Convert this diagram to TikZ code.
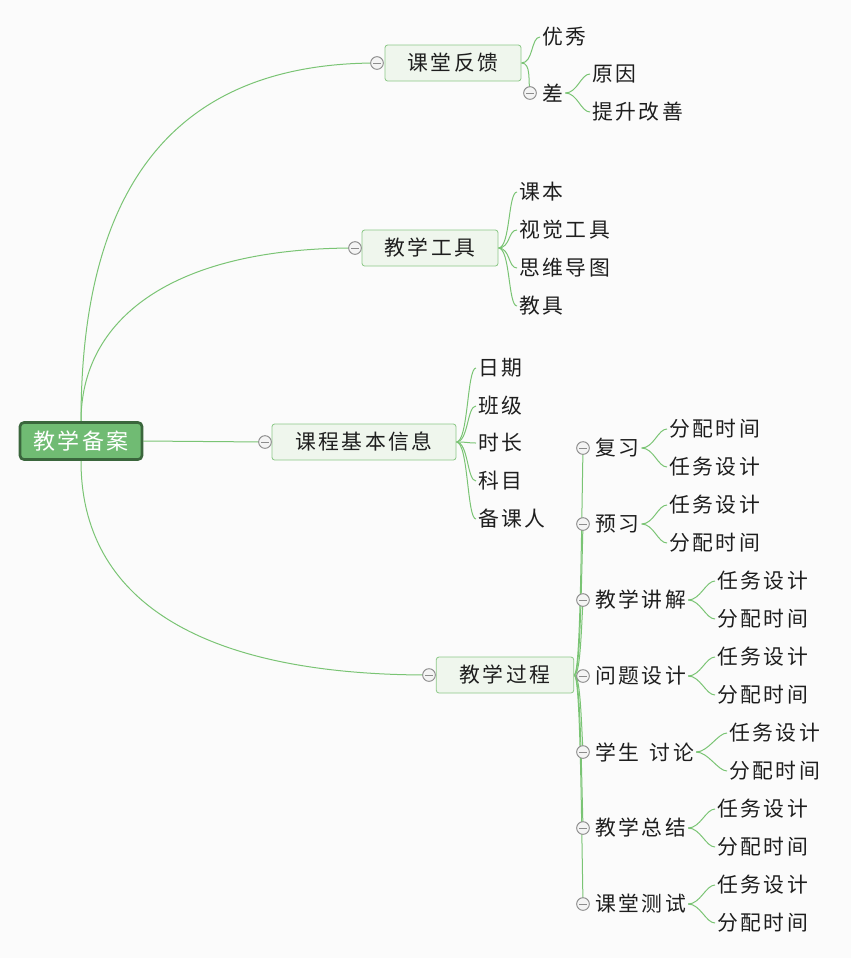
\documentclass[tikz,border=0pt]{standalone}
\usepackage{fontspec}
\setmainfont{Noto Sans CJK SC}[LetterSpace=12]
\pgfdeclarelayer{bg}
\pgfdeclarelayer{lines}
\pgfsetlayers{bg,lines,main}
\definecolor{bgc}{RGB}{251,251,251}
\definecolor{lnc}{RGB}{122,196,116}
\definecolor{rootf}{RGB}{112,187,115}
\definecolor{rootb}{RGB}{58,102,60}
\definecolor{boxf}{RGB}{239,246,237}
\definecolor{boxb}{RGB}{140,200,135}
\definecolor{clpc}{RGB}{140,140,140}
\definecolor{clpf}{RGB}{244,244,244}
\definecolor{txt}{RGB}{30,30,30}
\begin{document}
\begin{tikzpicture}[x=0.75pt,y=-0.75pt,
  every node/.style={font=\fontsize{15.6}{18}\selectfont, text=txt},
  rootbox/.style={draw=rootb, fill=rootf, line width=2pt, rounded corners=3pt,
    minimum width=91.5pt, minimum height=27.75pt, inner sep=0pt, text=white,
    font=\fontsize{16.5}{18}\selectfont},
  topic/.style={draw=boxb, fill=boxf, line width=0.6pt, rounded corners=2pt,
    minimum height=27pt, inner sep=0pt},
  leaf/.style={anchor=west, inner xsep=1.5pt, inner ysep=2pt},
  clp/.style={circle, draw=clpc, fill=clpf, line width=0.7pt, minimum size=9.5pt, inner sep=0pt,
    path picture={\draw[clpc, line width=0.7pt]
      ([xshift=-2.8pt]path picture bounding box.center) --
      ([xshift=2.8pt]path picture bounding box.center);}},
  con/.style={draw=lnc, line width=0.75pt},
]
\useasboundingbox (0,0) rectangle (851,958);
\begin{pgfonlayer}{bg}
\fill[bgc] (0,0) rectangle (851,958);
\end{pgfonlayer}

% root and main topics
\node[rootbox] (root) at (81,441) {教学备案};
\node[topic, minimum width=102pt] (kt) at (453,63) {课堂反馈};
\node[clp] (ckt) at (377,63) {};
\node[topic, minimum width=102pt] (gj) at (430,248) {教学工具};
\node[clp] (cgj) at (355,248) {};
\node[topic, minimum width=138pt] (jb) at (364,442) {课程基本信息};
\node[clp] (cjb) at (265,442) {};
\node[topic, minimum width=103pt] (gc) at (505,675) {教学过程};
\node[clp] (cgc) at (429,675) {};

\begin{pgfonlayer}{lines}
\draw[con] (root.north) .. controls (81,180) and (180,63) .. (ckt.center);
\draw[con] (root.north) .. controls (81,320) and (170,248) .. (cgj.center);
\draw[con] (root.east) -- (cjb.center);
\draw[con] (root.south) .. controls (81,600) and (200,675) .. (cgc.center);
\end{pgfonlayer}

% 课堂反馈
\node[leaf] (yx) at (540,37) {优秀};
\node[clp] (cch) at (530,93) {};
\node[leaf] (ch) at (540,93) {差};
\node[leaf] (yy) at (590,74) {原因};
\node[leaf] (ts) at (590,112) {提升改善};
\begin{pgfonlayer}{lines}
\draw[con] (kt.east) .. controls +(12,0) and +(-9,0) .. (yx.west);
\draw[con] (kt.east) .. controls +(10,0) and +(-2,-12) .. (cch.center);
\draw[con] (ch.east) .. controls +(12,0) and +(-9,0) .. (yy.west);
\draw[con] (ch.east) .. controls +(12,0) and +(-9,0) .. (ts.west);
\end{pgfonlayer}

% 教学工具
\foreach \n/\y/\t in {1/192/课本, 2/230/视觉工具, 3/268/思维导图, 4/306/教具}{
  \node[leaf] (g\n) at (517,\y) {\t};
  \begin{pgfonlayer}{lines}
  \draw[con] (gj.east) .. controls +(12,0) and +(-9,0) .. (g\n.west);
  \end{pgfonlayer}
}

% 课程基本信息
\foreach \n/\y/\t in {1/368/日期, 2/406/班级, 3/443/时长, 4/481/科目, 5/519/备课人}{
  \node[leaf] (b\n) at (476,\y) {\t};
  \begin{pgfonlayer}{lines}
  \draw[con] (jb.east) .. controls +(12,0) and +(-9,0) .. (b\n.west);
  \end{pgfonlayer}
}

% 教学过程
\foreach \n/\y/\t/\lx/\a/\b in {
  1/448/复习/667/分配时间/任务设计,
  2/524/预习/667/任务设计/分配时间,
  3/600/教学讲解/715/任务设计/分配时间,
  4/676/问题设计/715/任务设计/分配时间,
  5/752/{学生\hspace{0.5em}讨论}/727/任务设计/分配时间,
  6/828/教学总结/715/任务设计/分配时间,
  7/904/课堂测试/715/任务设计/分配时间}{
  \node[clp] (pc\n) at (583,\y) {};
  \node[leaf] (p\n) at (593,\y) {\t};
  \node[leaf] (pa\n) at (\lx,\y-19) {\a};
  \node[leaf] (pb\n) at (\lx,\y+19) {\b};
  \begin{pgfonlayer}{lines}
  \draw[con] (gc.east) .. controls +(6,0) and (581,{(675+\y)/2}) .. (pc\n.center);
  \draw[con] (p\n.east) .. controls +(12,0) and +(-9,0) .. (pa\n.west);
  \draw[con] (p\n.east) .. controls +(12,0) and +(-9,0) .. (pb\n.west);
  \end{pgfonlayer}
}
\end{tikzpicture}
\end{document}
